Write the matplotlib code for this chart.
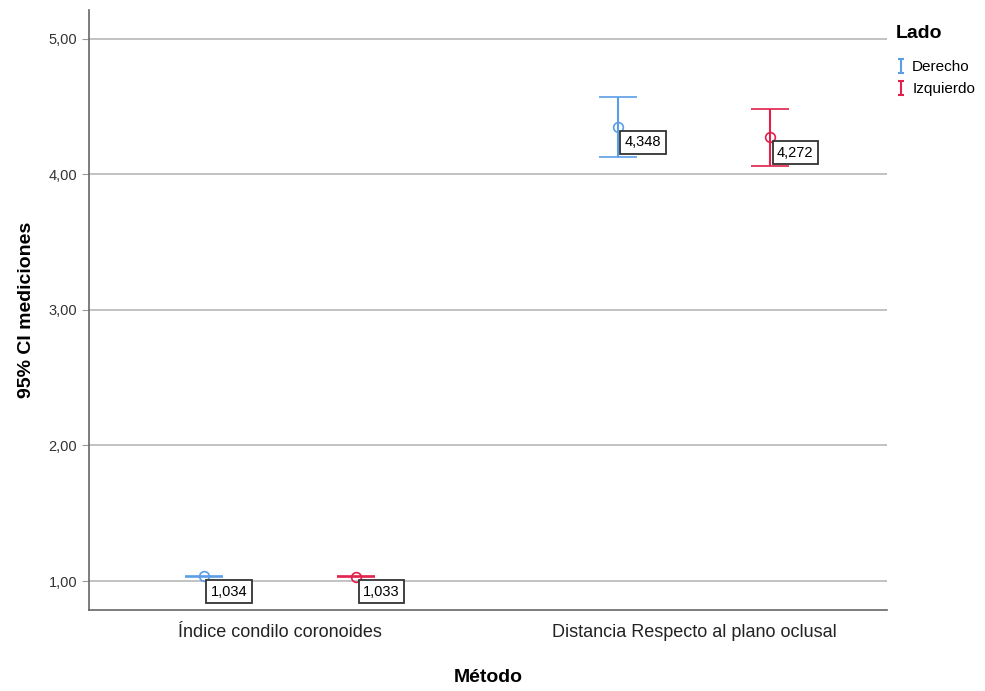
import numpy as np
import matplotlib.pyplot as plt
from matplotlib.ticker import FuncFormatter
from matplotlib.path import Path
from matplotlib.lines import Line2D

plt.rcParams['font.family'] = ['Liberation Sans', 'DejaVu Sans']

# data
metodos = ['Índice condilo coronoides', 'Distancia Respecto al plano oclusal']
lados = ['Derecho', 'Izquierdo']
media_derecho = [1.034, 4.348]
media_izquierdo = [1.033, 4.272]
ci_low_derecho = [1.028, 4.128]
ci_high_derecho = [1.040, 4.572]
ci_low_izquierdo = [1.027, 4.062]
ci_high_izquierdo = [1.039, 4.484]

colores = ['#5a9ee6', '#e2204c']

fig = plt.figure(figsize=(9.85, 6.91), dpi=100)
ax = fig.add_axes([0.0904, 0.1172, 0.81, 0.868])

x = np.arange(len(metodos))
offset = 0.184

series = [
    (media_derecho, ci_low_derecho, ci_high_derecho),
    (media_izquierdo, ci_low_izquierdo, ci_high_izquierdo),
]

for i, (media, lo, hi) in enumerate(series):
    media = np.array(media)
    lo = np.array(lo)
    hi = np.array(hi)
    xs = x + (i * 2 - 1) * offset
    ax.errorbar(xs, media, yerr=[media - lo, hi - media], fmt='o', mfc='none',
                mec=colores[i], ms=7, mew=1.2, ecolor=colores[i], elinewidth=1.5,
                capsize=13.5, capthick=2.2, zorder=3)
    for xx, m in zip(xs, media):
        ax.annotate(f'{m:.3f}'.replace('.', ','), (xx, m), xytext=(5, -6),
                    textcoords='offset points', ha='left', va='top', fontsize=10.5,
                    bbox=dict(boxstyle='square,pad=0.3', fc='white', ec='#333333', lw=1.3),
                    zorder=4)

# I-shaped legend glyph
i_path = Path([(-0.5, -1), (0.5, -1), (0, -1), (0, 1), (-0.5, 1), (0.5, 1)],
              [Path.MOVETO, Path.LINETO, Path.MOVETO, Path.LINETO, Path.MOVETO, Path.LINETO])
handles = [Line2D([], [], ls='none', marker=i_path, ms=10, mec=c, mew=1.5, mfc='none')
           for c in colores]

ax.set_xlim(-0.461, 1.466)
ax.set_ylim(0.786, 5.21)
ax.set_yticks([1, 2, 3, 4, 5])
ax.yaxis.set_major_formatter(FuncFormatter(lambda v, p: f'{v:.2f}'.replace('.', ',')))
ax.set_xticks(x)
ax.set_xticklabels(metodos, fontsize=13, color='#222222')
ax.tick_params(axis='x', length=0, pad=10)
ax.tick_params(axis='y', labelsize=10.5, length=5, color='#999999', labelcolor='#333333')
ax.grid(axis='y', color='#b8b8b8', lw=1.2)
ax.set_axisbelow(True)
for s in ['top', 'right']:
    ax.spines[s].set_visible(False)
for s in ['left', 'bottom']:
    ax.spines[s].set_color('#666666')
    ax.spines[s].set_linewidth(1.2)

ax.set_xlabel('Método', fontsize=14, fontweight='bold', labelpad=20)
ax.set_ylabel('95% CI mediciones', fontsize=14, fontweight='bold', labelpad=10)

leg = fig.legend(handles, lados, loc='upper left', bbox_to_anchor=(0.909, 0.964),
                 frameon=False, title='Lado', fontsize=11, handlelength=0.7,
                 handletextpad=0.4, alignment='left', labelspacing=0.55,
                 borderpad=0, borderaxespad=0)
leg.get_title().set_fontweight('bold')
leg.get_title().set_fontsize(14)
leg._legend_box.sep = 13

fig.savefig('out.png', dpi=100)
